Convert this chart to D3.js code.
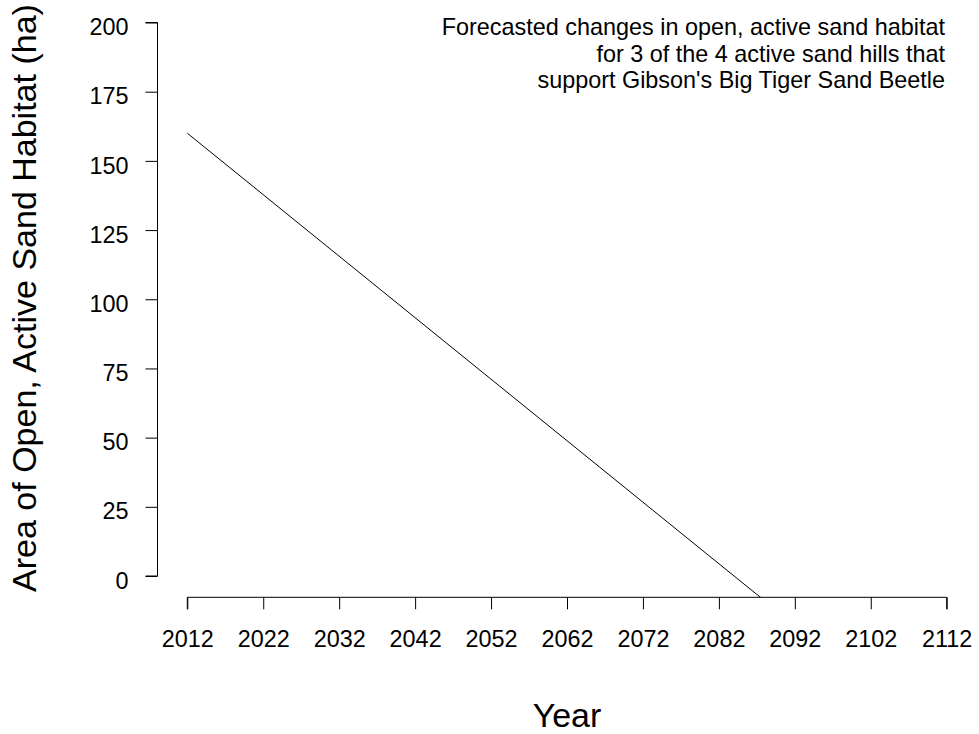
<!DOCTYPE html>
<html>
<head>
<meta charset="utf-8">
<script src="https://cdn.jsdelivr.net/npm/d3@7"></script>
<style>
  body { margin: 0; background: #fff; }
  svg { display: block; font-family: "Liberation Sans", Arial, sans-serif; }
  .tick text { fill: #000; }
</style>
</head>
<body>
<div id="chart"></div>
<script>
// forecast line (goes below zero, clipped by plot region)
const years = [2012, 2084, 2112];
const habitat = [160, 0, -62];

const xTicks = [2012, 2022, 2032, 2042, 2052, 2062, 2072, 2082, 2092, 2102, 2112];
const yTicks = [0, 25, 50, 75, 100, 125, 150, 175, 200];

const noteLines = [
    "Forecasted changes in open, active sand habitat",
    "for 3 of the 4 active sand hills that",
    "support Gibson's Big Tiger Sand Beetle"
];

const width = 979, height = 734;
const FONT = "Liberation Sans, Arial, sans-serif";

const svg = d3.select("#chart").append("svg")
    .attr("width", width)
    .attr("height", height);

const x = d3.scaleLinear().domain([2012, 2112]).range([187.3, 946.7]);
const y = d3.scaleLinear().domain([0, 200]).range([576, 22.5]);

// plot region: bottom sits on the x axis line
const plotBottom = 597.3;
svg.append("clipPath").attr("id", "plotclip")
    .append("rect")
    .attr("x", 157).attr("y", 0)
    .attr("width", 978 - 157).attr("height", plotBottom);

// y axis
const yAxis = svg.append("g")
    .attr("transform", "translate(157.5,0)")
    .call(d3.axisLeft(y).tickValues(yTicks).tickSize(12).tickPadding(17));
yAxis.selectAll("path, line").attr("stroke", "#000").attr("stroke-width", 1);
yAxis.selectAll("text")
    .attr("font-size", 23.4)
    .attr("font-family", FONT)
    .attr("dy", "0.52em");
yAxis.select(".domain").attr("d", `M-12,${y(0)}H0V${y(200)}H-12`);

// x axis
const xAxis = svg.append("g")
    .attr("transform", `translate(0,${plotBottom})`)
    .call(d3.axisBottom(x).tickValues(xTicks).tickFormat(d3.format("d")).tickSize(12));
xAxis.selectAll("path, line").attr("stroke", "#000").attr("stroke-width", 1);
xAxis.selectAll("text")
    .attr("font-size", 23.4)
    .attr("font-family", FONT)
    .attr("y", 49.4)
    .attr("dy", 0);
xAxis.select(".domain").attr("d", `M${x(2012)},12V0H${x(2112)}V12`);

// forecast line
const pts = years.map((d, i) => [d, habitat[i]]);
svg.append("path")
    .datum(pts)
    .attr("clip-path", "url(#plotclip)")
    .attr("fill", "none")
    .attr("stroke", "#000")
    .attr("stroke-width", 1)
    .attr("d", d3.line().x(d => x(d[0])).y(d => y(d[1])));

// axis titles
svg.append("text")
    .attr("x", x(2062))
    .attr("y", 727)
    .attr("text-anchor", "middle")
    .attr("font-size", 34)
    .text("Year");

svg.append("text")
    .attr("transform", `translate(36,298) rotate(-90)`)
    .attr("text-anchor", "middle")
    .attr("font-size", 34)
    .text("Area of Open, Active Sand Habitat (ha)");

// note
svg.append("g").selectAll("text")
    .data(noteLines)
    .join("text")
    .attr("x", 945)
    .attr("y", (d, i) => 35 + i * 26.5)
    .attr("text-anchor", "end")
    .attr("font-size", 23.4)
    .text(d => d);
</script>
</body>
</html>
